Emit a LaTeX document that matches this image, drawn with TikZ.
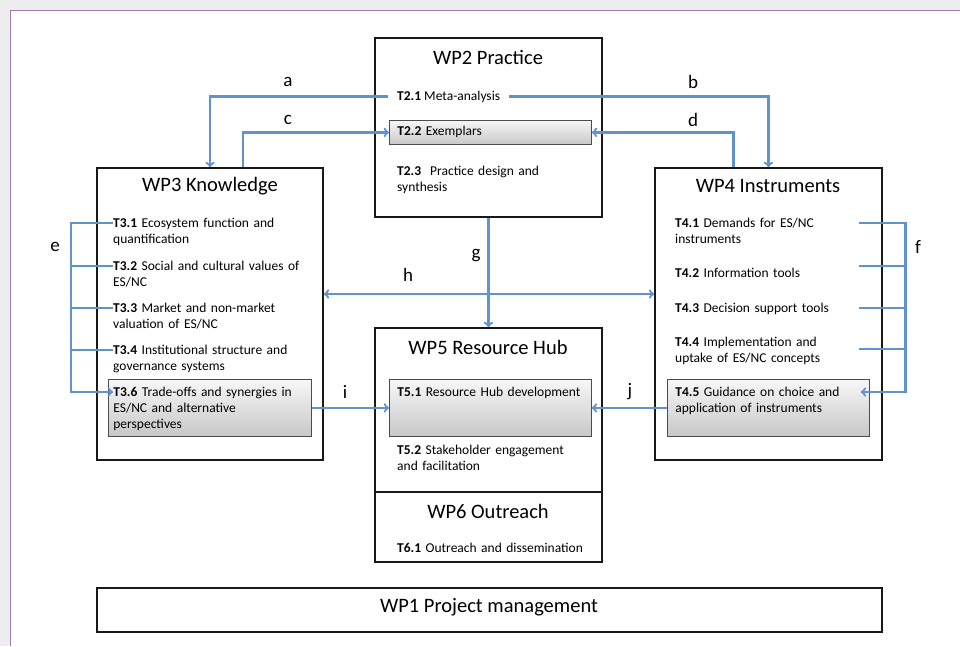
\documentclass[tikz,border=0pt]{standalone}
\usepackage{fontspec}
\setmainfont{Carlito}
\usetikzlibrary{shadows}

\definecolor{linkblue}{RGB}{96,146,204}
\definecolor{pageline}{RGB}{165,125,180}

\tikzset{
  wpbox/.style={draw=black!90, line width=1.8pt, fill=white, inner sep=0pt,
    drop shadow={opacity=0.3, shadow xshift=1pt, shadow yshift=-1pt}},
  wptitle/.style={inner sep=0pt, font=\fontsize{20.5}{24}\selectfont},
  task/.style={anchor=base west, inner sep=0pt, align=left,
    font=\fontsize{13.5}{16}\selectfont},
  taskbox/.style={draw=black!70, line width=0.8pt, top color=black!3,
    bottom color=black!22, anchor=north west, align=left, text width=186pt,
    inner xsep=8pt, inner ysep=8pt, text height=9pt, text depth=32pt,
    font=\fontsize{13.5}{16}\selectfont,
    drop shadow={opacity=0.3, shadow xshift=1pt, shadow yshift=-1pt}},
  link/.style={draw=linkblue, line width=2.2pt, ->},
  lbl/.style={inner sep=0pt, font=\fontsize{19}{22}\selectfont}
}

\begin{document}
\begin{tikzpicture}[x=1pt, y=-1pt]
  % Page and background
  \useasboundingbox (0,0) rectangle (960,646);
  \fill[black!7] (0,0) rectangle (960,10);
  \fill[black!7] (0,0) rectangle (10,646);
  \draw[pageline, line width=0.8pt] (10,646) -- (10,10) -- (960,10);

  % Draw the work package boxes
  \node[wpbox, minimum width=227pt, minimum height=179pt] (wp2) at (488.5,127.5) {};
  \node[wpbox, minimum width=226pt, minimum height=292pt] (wp3) at (210,314) {};
  \node[wpbox, minimum width=227pt, minimum height=292pt] (wp4) at (768.5,314) {};
  \node[wpbox, minimum width=227pt, minimum height=164pt] (wp5) at (488.5,410) {};
  \node[wpbox, minimum width=227pt, minimum height=70pt] (wp6) at (488.5,527) {};
  \node[wpbox, minimum width=785pt, minimum height=44pt] (wp1) at (489.5,610) {};

  % Titles
  \node[wptitle] (wp2t) at (488,57) {WP2 Practice};
  \node[wptitle] (wp3t) at (210,186) {WP3 Knowledge};
  \node[wptitle] (wp4t) at (768,186) {WP4 Instruments};
  \node[wptitle] (wp5t) at (488,347) {WP5 Resource Hub};
  \node[wptitle] (wp6t) at (488,511) {WP6 Outreach};
  \node[wptitle] (wp1t) at (489,607) {WP1 Project management};

  % Tasks of WP2
  \node[task, inner xsep=9pt] (t21) at (388,100) {\textbf{T2.1} Meta-analysis};
  \node[taskbox, text depth=3pt, inner ysep=6pt] (t22) at (389,120) {\textbf{T2.2} Exemplars};
  \node[task, text width=200pt] (t23) at (397,175) {\textbf{T2.3}\ \ Practice design and\\synthesis};

  % Tasks of WP3
  \node[task, text width=200pt] (t31) at (113,227) {\textbf{T3.1} Ecosystem function and\\quantification};
  \node[task, text width=200pt] (t32) at (113,270) {\textbf{T3.2} Social and cultural values of\\ES/NC};
  \node[task, text width=200pt] (t33) at (113,312) {\textbf{T3.3} Market and non-market\\valuation of ES/NC};
  \node[task, text width=200pt] (t34) at (113,354) {\textbf{T3.4} Institutional structure and\\governance systems};
  \node[taskbox, inner xsep=5pt, text width=193pt] (t36) at (108,379) {\textbf{T3.6} Trade-offs and synergies in\\ES/NC and alternative\\perspectives};

  % Tasks of WP4
  \node[task, text width=184pt] (t41) at (675,227) {\textbf{T4.1} Demands for ES/NC\\instruments};
  \node[task, text width=184pt] (t42) at (675,277) {\textbf{T4.2} Information tools};
  \node[task, text width=184pt] (t43) at (675,312) {\textbf{T4.3} Decision support tools};
  \node[task, text width=184pt] (t44) at (675,346) {\textbf{T4.4} Implementation and\\uptake of ES/NC concepts};
  \node[taskbox] (t45) at (667,379) {\textbf{T4.5} Guidance on choice and\\application of instruments};

  % Tasks of WP5 and WP6
  \node[taskbox] (t51) at (389,379) {\textbf{T5.1} Resource Hub development};
  \node[task, text width=200pt] (t52) at (397,454) {\textbf{T5.2} Stakeholder engagement\\and facilitation};
  \node[task, text width=200pt] (t61) at (397,552) {\textbf{T6.1} Outreach and dissemination};

  % Draw the links between packages
  \draw[link] (t21.west) -| (wp3.north);
  \draw[link] (t21.east) -| (wp4.north);
  \draw[link] ([xshift=33pt]wp3.north) |- (t22.west);
  \draw[link] ([xshift=-35pt]wp4.north) |- (t22.east);
  \draw[link] (wp2.south) -- (wp5.north);
  \draw[link, <->] ([yshift=20pt]wp3.east) -- ([yshift=20pt]wp4.west);
  \draw[link] (t36.east) -- (t51.west);
  \draw[link] (t45.west) -- (t51.east);

  % Brackets inside WP3 and WP4
  \draw[link] ([yshift=4pt]t31.base west) -- ++(-42,0) |- ([xshift=5pt, yshift=-13pt]t36.north west);
  \foreach \t in {t32,t33,t34}
    \draw[link, -] ([yshift=4pt]\t.base west) -- ++(-42,0);
  \draw[link] ([yshift=4pt]t41.base east) -- ++(46,0) |- ([xshift=-9pt, yshift=-13pt]t45.north east);
  \foreach \t/\s in {t42/11pt,t43/4pt,t44/-3pt}
    \draw[link, -] ([yshift=\s]\t.base east) -- ++(46,0);

  % Link labels
  \node[lbl] (la) at (288,82) {a};
  \node[lbl] (lb) at (693,82) {b};
  \node[lbl] (lc) at (288,120) {c};
  \node[lbl] (ld) at (693,120) {d};
  \node[lbl] (le) at (55,247) {e};
  \node[lbl] (lf) at (918,247) {f};
  \node[lbl] (lg) at (476,256) {g};
  \node[lbl] (lh) at (408,275) {h};
  \node[lbl] (li) at (345,392) {i};
  \node[lbl] (lj) at (630,392) {j};
\end{tikzpicture}
\end{document}
